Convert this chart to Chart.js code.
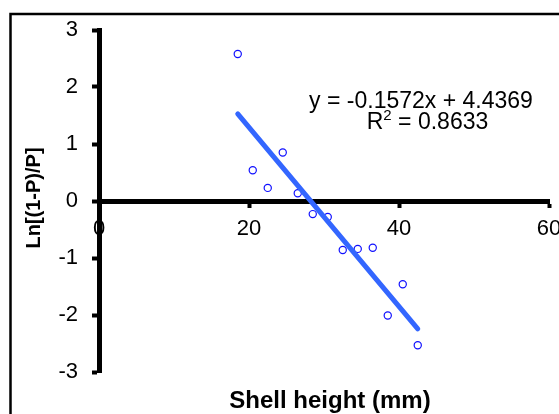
<!DOCTYPE html>
<html>
<head>
<meta charset="utf-8">
<script src="https://cdn.jsdelivr.net/npm/chart.js@4/dist/chart.umd.min.js"></script>
<style>
  html, body { margin: 0; padding: 0; background: #ffffff; }
  #wrap { width: 559px; height: 414px; position: relative; }
</style>
</head>
<body>
<div id="wrap"><canvas id="c" width="559" height="414"></canvas></div>
<script>
// ---- data ----
const shellHeight = [18.5, 20.5, 22.5, 24.5, 26.5, 28.5, 30.5, 32.5, 34.5, 36.5, 38.5, 40.5, 42.5];
const lnRatio     = [2.58, 0.54, 0.23, 0.85, 0.135, -0.23, -0.28, -0.86, -0.84, -0.82, -2.01, -1.46, -2.53];
const trendX      = [18.5, 42.5];
const trendY      = [1.529, -2.244];
const xTicks      = [0, 20, 40, 60];
const yTicks      = [-3, -2, -1, 0, 1, 2, 3];
const equationText = 'y = -0.1572x + 4.4369';
const r2Value      = '0.8633';
const xTitle = 'Shell height (mm)';
const yTitle = 'Ln[(1-P)/P]';

const FONT = "'Liberation Sans', Arial, Helvetica, sans-serif";

const pointData = shellHeight.map((x, i) => ({ x: x, y: lnRatio[i] }));
const trendData = trendX.map((x, i) => ({ x: x, y: trendY[i] }));

const decorPlugin = {
  id: 'decor',
  beforeDraw(chart) {
    const ctx = chart.ctx;
    ctx.save();
    ctx.fillStyle = '#ffffff';
    ctx.fillRect(0, 0, chart.width, chart.height);
    ctx.strokeStyle = '#000000';
    ctx.lineWidth = 2.5;
    ctx.strokeRect(10.5, 14, 600, 500);
    ctx.restore();
  },
  afterDraw(chart) {
    const ctx = chart.ctx;
    ctx.save();
    ctx.fillStyle = '#000000';
    // x axis title
    ctx.font = 'bold 24px ' + FONT;
    ctx.textAlign = 'center';
    ctx.textBaseline = 'alphabetic';
    ctx.fillText(xTitle, 330, 408);
    // y axis title (rotated)
    ctx.save();
    ctx.translate(40, 198);
    ctx.rotate(-Math.PI / 2);
    ctx.font = 'bold 20px ' + FONT;
    ctx.textAlign = 'center';
    ctx.fillText(yTitle, 0, 0);
    ctx.restore();
    // trendline equation
    ctx.font = '23px ' + FONT;
    ctx.textAlign = 'center';
    ctx.fillText(equationText, 421, 108);
    // R^2 line with superscript
    const big = '23px ' + FONT, small = '15px ' + FONT;
    ctx.textAlign = 'left';
    ctx.font = big;
    const wR = ctx.measureText('R').width;
    const wRest = ctx.measureText(' = ' + r2Value).width;
    ctx.font = small;
    const w2 = ctx.measureText('2').width;
    const total = wR + w2 + wRest;
    let x0 = 427.5 - total / 2;
    ctx.font = big;
    ctx.fillText('R', x0, 129);
    ctx.font = small;
    ctx.fillText('2', x0 + wR, 120);
    ctx.font = big;
    ctx.fillText(' = ' + r2Value, x0 + wR + w2, 129);
    ctx.restore();
  }
};

new Chart(document.getElementById('c'), {
  type: 'scatter',
  data: {
    datasets: [
      {
        label: 'trend',
        type: 'line',
        data: trendData,
        borderColor: '#3366ff',
        borderWidth: 5,
        borderCapStyle: 'round',
        pointRadius: 0,
        fill: false,
        order: 0
      },
      {
        label: 'data',
        data: pointData,
        pointStyle: 'circle',
        pointRadius: 3.6,
        pointBorderWidth: 1.2,
        pointBorderColor: '#1010ff',
        pointBackgroundColor: 'rgba(255,255,255,0)',
        order: 1
      }
    ]
  },
  options: {
    responsive: false,
    animation: false,
    devicePixelRatio: 1,
    layout: { padding: { left: 0, right: 10, top: 30, bottom: 42 } },
    plugins: { legend: { display: false }, tooltip: { enabled: false } },
    scales: {
      x: {
        type: 'linear',
        min: 0, max: 60,
        position: { y: 0 },
        afterBuildTicks: (s) => { s.ticks = xTicks.map(v => ({ value: v })); },
        afterFit: (s) => { s.paddingLeft = 0; s.paddingRight = 0; },
        border: { display: true, color: '#000000', width: 5 },
        grid: { display: true, drawOnChartArea: false, drawTicks: true, tickLength: 4, tickWidth: 4, tickColor: '#000000' },
        ticks: { color: '#000000', font: { family: FONT, size: 22 }, padding: 11, maxRotation: 0 }
      },
      y: {
        type: 'linear',
        min: -3, max: 3,
        position: 'left',
        afterBuildTicks: (s) => { s.ticks = yTicks.map(v => ({ value: v })); },
        afterFit: (s) => { s.width = 99; s.paddingTop = 0; s.paddingBottom = 0; },
        border: { display: true, color: '#000000', width: 5 },
        grid: { display: true, drawOnChartArea: false, drawTicks: true, tickLength: 7, tickWidth: 4, tickColor: '#000000' },
        ticks: { color: '#000000', font: { family: FONT, size: 22 }, padding: 14 }
      }
    }
  },
  plugins: [decorPlugin]
});
</script>
</body>
</html>
